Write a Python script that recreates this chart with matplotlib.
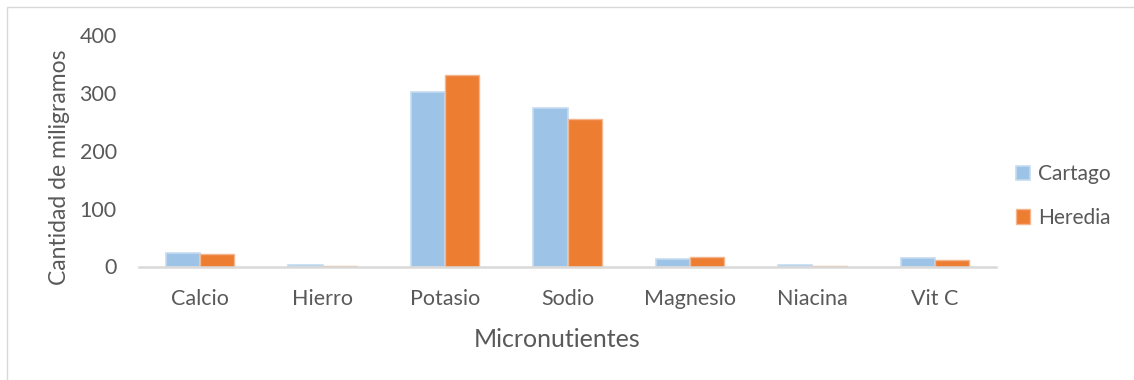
import matplotlib
matplotlib.use("Agg")
import matplotlib.pyplot as plt
from matplotlib.patches import Rectangle
import numpy as np

categories = ["Calcio", "Hierro", "Potasio", "Sodio", "Magnesio", "Niacina", "Vit C"]
cartago = [24, 2.5, 302, 274, 13, 2, 14.5]
heredia = [21, 0.5, 331, 255, 16, 1.5, 11]
series_names = ["Cartago", "Heredia"]
y_ticks = [0, 100, 200, 300, 400]

plt.rcParams["font.family"] = ["Lato", "DejaVu Sans"]
text_color = "#595959"

W, H = 1134, 380
fig = plt.figure(figsize=(W / 100, H / 100), dpi=100)
ax = fig.add_axes([139 / W, 1 - 266.5 / H, (996 - 139) / W, (266.5 - 35) / H])

x = np.arange(len(categories))
w = 0.28
ax.bar(x - w / 2, cartago, w, color="#9DC3E6", edgecolor="#C5DCF1", linewidth=1.2,
       label=series_names[0], zorder=2)
ax.bar(x + w / 2, heredia, w, color="#ED7D31", edgecolor="#F3B58D", linewidth=1.0,
       label=series_names[1], zorder=2)

ax.set_xlim(-0.5, len(categories) - 0.5)
ax.set_ylim(0, 400)
ax.set_yticks(y_ticks)
ax.set_xticks(x)
ax.set_xticklabels(categories)
ax.tick_params(axis="both", length=0, labelsize=15.5, colors=text_color)
ax.tick_params(axis="y", pad=16)
ax.tick_params(axis="x", pad=16)
for s in ["top", "right", "left"]:
    ax.spines[s].set_visible(False)
ax.spines["bottom"].set_color("#D9D9D9")
ax.spines["bottom"].set_linewidth(1.8)
ax.spines["bottom"].set_zorder(3)

# axis titles
fig.text(59 / W, 1 - 167 / H, "Cantidad de miligramos", rotation=90,
         ha="center", va="center", fontsize=16.5, color=text_color)
ax.set_xlabel("Micronutientes", fontsize=18, color=text_color)
ax.xaxis.set_label_coords(0.488, -0.265)

leg = ax.legend(loc="center left", bbox_to_anchor=(1.0117, 0.305), frameon=False,
                fontsize=15, labelcolor=text_color, handlelength=0.67, handleheight=0.67,
                handletextpad=0.35, labelspacing=1.15, borderpad=0)

# outer chart border
fig.patches.append(Rectangle((7 / W, -0.05), 1.2, 1 - 7 / H + 0.05,
                             transform=fig.transFigure, fill=False,
                             edgecolor="#D9D9D9", linewidth=1.0))

fig.savefig("out.png", dpi=100)
